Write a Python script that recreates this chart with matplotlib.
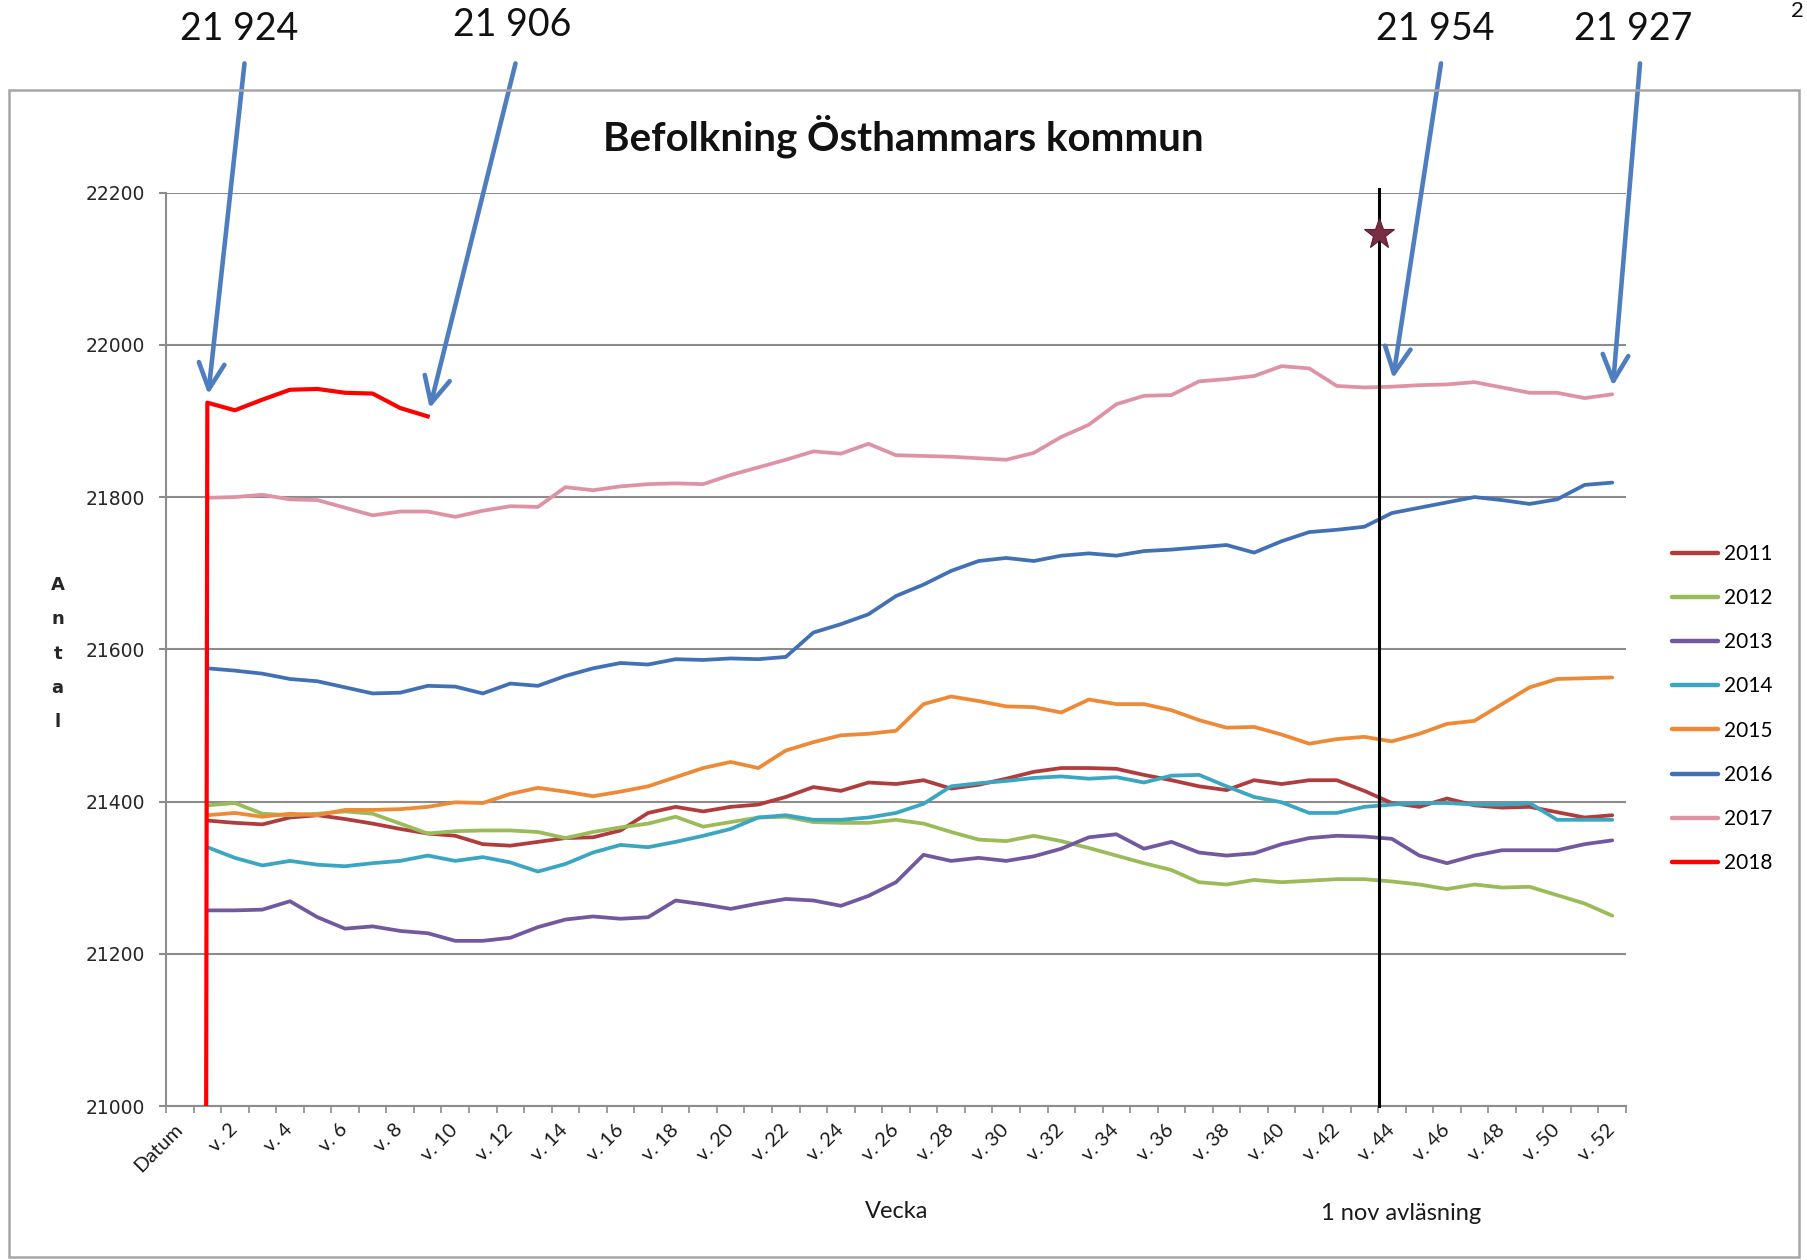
import numpy as np
import matplotlib
matplotlib.use("Agg")
import matplotlib.pyplot as plt
from matplotlib.patches import Rectangle
from matplotlib.lines import Line2D

# ---------------- data ----------------
categories = ["Datum"] + [f"v. {i}" for i in range(1, 53)]

y2011 = [21375, 21372, 21370, 21379, 21382, 21377, 21371, 21364, 21358, 21355, 21344, 21342, 21347,
         21352, 21353, 21362, 21385, 21393, 21387, 21393, 21396, 21406, 21419, 21414, 21425, 21423,
         21428, 21417, 21422, 21430, 21439, 21444, 21444, 21443, 21435, 21428, 21420, 21415, 21428,
         21423, 21428, 21428, 21414, 21398, 21393, 21404, 21395, 21392, 21393, 21386, 21379, 21382]
y2012 = [21395, 21398, 21384, 21382, 21384, 21387, 21384, 21371, 21358, 21361, 21362, 21362, 21360,
         21352, 21360, 21366, 21371, 21380, 21367, 21373, 21379, 21380, 21373, 21372, 21372, 21376,
         21371, 21360, 21350, 21348, 21355, 21348, 21339, 21329, 21319, 21310, 21294, 21291, 21297,
         21294, 21296, 21298, 21298, 21295, 21291, 21285, 21291, 21287, 21288, 21277, 21266, 21250]
y2013 = [21257, 21257, 21258, 21269, 21248, 21233, 21236, 21230, 21227, 21217, 21217, 21221, 21235,
         21245, 21249, 21246, 21248, 21270, 21265, 21259, 21266, 21272, 21270, 21263, 21276, 21294,
         21330, 21322, 21326, 21322, 21328, 21338, 21353, 21357, 21338, 21347, 21333, 21329, 21332,
         21344, 21352, 21355, 21354, 21351, 21329, 21319, 21329, 21336, 21336, 21336, 21344, 21349]
y2014 = [21340, 21326, 21316, 21322, 21317, 21315, 21319, 21322, 21329, 21322, 21327, 21320, 21308,
         21318, 21333, 21343, 21340, 21347, 21355, 21364, 21379, 21382, 21376, 21376, 21379, 21385,
         21397, 21420, 21424, 21427, 21431, 21433, 21430, 21432, 21425, 21434, 21435, 21420, 21406,
         21399, 21385, 21385, 21393, 21396, 21398, 21398, 21396, 21396, 21398, 21376, 21376, 21376]
y2015 = [21382, 21385, 21380, 21384, 21382, 21389, 21389, 21390, 21393, 21399, 21398, 21410, 21418,
         21413, 21407, 21413, 21420, 21432, 21444, 21452, 21444, 21467, 21478, 21487, 21489, 21493,
         21528, 21538, 21532, 21525, 21524, 21517, 21534, 21528, 21528, 21520, 21507, 21497, 21498,
         21488, 21476, 21482, 21485, 21479, 21489, 21502, 21506, 21528, 21550, 21561, 21562, 21563]
y2016 = [21575, 21572, 21568, 21561, 21558, 21550, 21542, 21543, 21552, 21551, 21542, 21555, 21552,
         21565, 21575, 21582, 21580, 21587, 21586, 21588, 21587, 21590, 21622, 21633, 21646, 21670,
         21685, 21703, 21716, 21720, 21716, 21723, 21726, 21723, 21729, 21731, 21734, 21737, 21727,
         21742, 21754, 21757, 21761, 21779, 21786, 21793, 21800, 21796, 21791, 21797, 21816, 21819]
y2017 = [21799, 21800, 21803, 21797, 21796, 21786, 21776, 21781, 21781, 21774, 21782, 21788, 21787,
         21813, 21809, 21814, 21817, 21818, 21817, 21829, 21839, 21849, 21860, 21857, 21870, 21855,
         21854, 21853, 21851, 21849, 21858, 21879, 21895, 21922, 21933, 21934, 21952, 21955, 21959,
         21972, 21969, 21946, 21944, 21945, 21947, 21948, 21951, 21944, 21937, 21937, 21930, 21935]
# 2018 starts at the "Datum" category (value 0) and runs to v. 9
y2018 = [0, 21924, 21914, 21928, 21941, 21942, 21937, 21936, 21917, 21906]

years = ["2011", "2012", "2013", "2014", "2015", "2016", "2017", "2018"]
colors = ["#B03C3E", "#9BBB59", "#71589F", "#3AA6C2", "#EE8A35", "#4270B5", "#DE93A5", "#FF0000"]

# annotations: (label, series year, category index)
ann_labels = ["21 924", "21 906", "21 954", "21 927"]
ann_series = ["2018", "2018", "2017", "2017"]
ann_index = [1, 9, 44, 52]

reading_line_pos = 43.55       # "1 nov avläsning" marker line (category units)
star_value = 22145

# ---------------- figure ----------------
W, H = 1808, 1260
fig = plt.figure(figsize=(W / 100, H / 100), dpi=100)
fig.patch.set_facecolor("white")

# outer chart frame
fig.patches.append(Rectangle((9 / W, 3 / H), (1799 - 9) / W, (1257 - 90) / H,
                             transform=fig.transFigure, fill=False, ec="#A6A6A6", lw=1.8))

ax = fig.add_axes([166 / W, 1 - 1106 / H, (1626 - 166) / W, (1106 - 192.6) / H])
x = np.arange(len(categories))

series = {"2011": y2011, "2012": y2012, "2013": y2013, "2014": y2014,
          "2015": y2015, "2016": y2016, "2017": y2017}
handles = []
for yr, col in zip(years, colors):
    if yr == "2018":
        ax.plot(x[:len(y2018)], y2018, color=col, lw=3.0, solid_joinstyle="round", zorder=5)
    else:
        ax.plot(x[1:1 + len(series[yr])], series[yr], color=col, lw=2.7,
                solid_joinstyle="round", solid_capstyle="round", zorder=3)
    handles.append(Line2D([], [], color=col, lw=3.2, solid_capstyle="round"))

ax.set_xlim(-0.5, len(categories) - 0.5)
ax.set_ylim(21000, 22200)

grid_c = "#8C8C8C"
ax.set_yticks(np.arange(21000, 22201, 200))
ax.yaxis.grid(True, color=grid_c, lw=1.5)
ax.set_axisbelow(True)
for s in ["top", "right"]:
    ax.spines[s].set_visible(False)
for s in ["left", "bottom"]:
    ax.spines[s].set_color(grid_c)
    ax.spines[s].set_linewidth(1.5)
ax.tick_params(axis="y", length=5, width=1.5, color=grid_c, labelsize=13.5,
               labelcolor="#262626", pad=10)
for t in ax.get_yticklabels():
    t.set_family("DejaVu Sans")

ax.set_xticks(x[::2])
ax.set_xticklabels(categories[::2], rotation=45, ha="right", va="center",
                   rotation_mode="anchor", fontsize=14.5, family="Lato", color="#1A1A1A")
ax.set_xticks(np.arange(-0.5, len(categories), 1), minor=True)
ax.tick_params(axis="x", which="major", length=0, pad=15)
ax.tick_params(axis="x", which="minor", length=5, width=1.2, color=grid_c)

# reading line + star
ax.axvline(reading_line_pos, ymin=0, ymax=1.004, color="black", lw=2.2, clip_on=False, zorder=6)
ax.plot([reading_line_pos], [star_value], marker="*", ms=23, color="#7A2E45",
        mec="#5A1E30", mew=0.8, zorder=7, clip_on=False)

# title, axis texts
fig.text(903 / W, 1 - 136 / H, "Befolkning Östhammars kommun", ha="center", va="center",
         family="Lato", weight="bold", fontsize=29, color="#111111")
fig.text(897 / W, 1 - 1211 / H, "Vecka", ha="center", va="center", family="Lato",
         fontsize=17, color="#1A1A1A")
fig.text(1401 / W, 1 - 1213 / H, "1 nov avläsning", ha="center", va="center", family="Lato",
         fontsize=17, color="#1A1A1A")
for i, ch in enumerate("Antal"):
    fig.text(57.6 / W, (H - 590 - i * 34.3) / H, ch, ha="center", va="baseline",
             family="DejaVu Sans", weight="bold", fontsize=13, color="#262626")

# legend
fig.legend(handles, years, loc="upper left", bbox_to_anchor=(1672 / W, 1 - 544 / H),
           frameon=False, borderpad=0, borderaxespad=0, handlelength=2.2,
           handletextpad=0.3, labelspacing=1.16, prop={"family": "Lato", "size": 15})

# annotations with arrows
text_pos = [(238.7, 28.8), (512, 25.4), (1435.5, 28.8), (1632.7, 28.8)]
arrow_start = [(244.5, 63.4), (515.5, 63.4), (1441, 63.4), (1640, 63.4)]
all_series = dict(series)
all_series["2018"] = y2018
for lab, yr, idx, tp, ap in zip(ann_labels, ann_series, ann_index, text_pos, arrow_start):
    val = all_series[yr][idx] if yr == "2018" else all_series[yr][idx - 1]
    fig.text(tp[0] / W, 1 - tp[1] / H, lab, ha="center", va="center", family="Lato",
             fontsize=27, color="#111111")
    ax.annotate("", xy=(idx, val), xycoords="data",
                xytext=(ap[0], H - ap[1]), textcoords="figure pixels",
                arrowprops=dict(arrowstyle="->,head_length=0.85,head_width=0.42",
                                color="#4F7EC0", lw=3.3, shrinkA=0, shrinkB=6,
                                mutation_scale=22),
                annotation_clip=False, zorder=8)

# page number in the top-right corner of the source page
fig.text(1791 / W, 0.999, "2", ha="left", va="top", family="Lato", fontsize=16, color="#111111")

fig.savefig("out.png", dpi=100)
